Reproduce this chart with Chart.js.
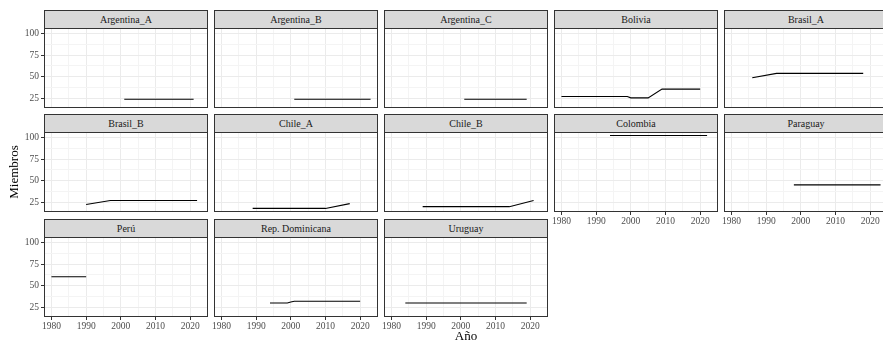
<!DOCTYPE html>
<html><head><meta charset="utf-8">
<script src="https://cdn.jsdelivr.net/npm/chart.js@4"></script>
<style>
body{margin:0;background:#fff;}
#wrap{position:relative;width:883px;height:342px;overflow:hidden;background:#fff;font-family:"Liberation Serif","DejaVu Serif",serif;}
.strip{position:absolute;box-sizing:border-box;border:1px solid #333;background:#d9d9d9;color:#1a1a1a;font-family:"Liberation Serif","DejaVu Serif",serif;font-size:10px;text-align:center;line-height:17px;height:19px;width:164px;white-space:nowrap;}
canvas{position:absolute;}
.ttl{position:absolute;font-family:"Liberation Serif","DejaVu Serif",serif;font-size:13px;color:#000;text-align:center;width:100px;line-height:14px;}
</style></head><body><div id="wrap"></div>
<script>
// ---- data ----
const countries = ["Argentina_A","Argentina_B","Argentina_C","Bolivia","Brasil_A","Brasil_B","Chile_A","Chile_B","Colombia","Paraguay","Perú","Rep. Dominicana","Uruguay"];
const argentinaA_years = [2001, 2021];            const argentinaA_values = [24.5, 24.5];
const argentinaB_years = [2001, 2023];            const argentinaB_values = [24.5, 24.5];
const argentinaC_years = [2001, 2019];            const argentinaC_values = [24.5, 24.5];
const bolivia_years = [1980, 1999, 2000, 2005, 2009, 2020]; const bolivia_values = [27.5, 27.5, 26, 26, 36, 36];
const brasilA_years = [1986, 1993, 2018];         const brasilA_values = [49, 54, 54];
const brasilB_years = [1990, 1997, 2022];         const brasilB_values = [23, 27.5, 27.5];
const chileA_years = [1989, 2010, 2017];          const chileA_values = [18.5, 18.5, 24];
const chileB_years = [1989, 2014, 2021];          const chileB_values = [20.5, 20.5, 27.5];
const colombia_years = [1994, 2022];              const colombia_values = [102, 102];
const paraguay_years = [1998, 2023];              const paraguay_values = [45.5, 45.5];
const peru_years = [1980, 1990];                  const peru_values = [60.5, 60.5];
const repDom_years = [1994, 1999, 2000, 2001, 2020]; const repDom_values = [30.5, 30.5, 31.5, 32.5, 32.5];
const uruguay_years = [1984, 2019];               const uruguay_values = [30.5, 30.5];

const xTickLabels = [1980, 1990, 2000, 2010, 2020];
const xMinorBreaks = [1985, 1995, 2005, 2015, 2025];
const yTickLabels = [25, 50, 75, 100];
const yMinorBreaks = [37.5, 62.5, 87.5];

const seriesYears = [argentinaA_years, argentinaB_years, argentinaC_years, bolivia_years, brasilA_years, brasilB_years, chileA_years, chileB_years, colombia_years, paraguay_years, peru_years, repDom_years, uruguay_years];
const seriesValues = [argentinaA_values, argentinaB_values, argentinaC_values, bolivia_values, brasilA_values, brasilB_values, chileA_values, chileB_values, colombia_values, paraguay_values, peru_values, repDom_values, uruguay_values];

// ---- layout ----
const X_MIN = 1977.85, X_MAX = 2025.15, Y_MIN = 14.4, Y_MAX = 106;
const colLefts = [44, 214, 384, 554, 724];
const plotTops = [28, 132, 237];
const PW = 164, PH = 80, LM = 40, TM = 10, RM = 10, BM = 26;
const FAM = '"Liberation Serif", "DejaVu Serif", serif';
const wrap = document.getElementById('wrap');

const xAll = [...xTickLabels, ...xMinorBreaks].sort((a,b)=>a-b);
const yAll = [...yTickLabels, ...yMinorBreaks].sort((a,b)=>a-b);

const borderPlugin = {
  id: 'panelBorder',
  afterDraw(chart) {
    const {ctx, chartArea: a} = chart;
    ctx.save();
    ctx.strokeStyle = '#333333';
    ctx.lineWidth = 1;
    ctx.strokeRect(Math.round(a.left) + 0.5, Math.round(a.top) + 0.5, Math.round(a.right - a.left) - 1, Math.round(a.bottom - a.top) - 1);
    ctx.restore();
  }
};

const N = countries.length;
for (let i = 0; i < N; i++) {
  const r = Math.floor(i / 5), c = i % 5;
  const left = colLefts[c], top = plotTops[r];
  const showY = c === 0;
  const showX = (i + 5) >= N;

  const strip = document.createElement('div');
  strip.className = 'strip';
  strip.style.left = left + 'px';
  strip.style.top = (top - 18) + 'px';
  strip.textContent = countries[i];
  wrap.appendChild(strip);

  const W = LM + PW + RM, H = TM + PH + BM;
  const cv = document.createElement('canvas');
  cv.width = W; cv.height = H;
  cv.style.width = W + 'px'; cv.style.height = H + 'px';
  cv.style.left = (left - LM) + 'px';
  cv.style.top = (top - TM) + 'px';
  wrap.appendChild(cv);

  const pts = seriesYears[i].map((yr, k) => ({x: yr, y: seriesValues[i][k]}));

  new Chart(cv, {
    type: 'line',
    data: {datasets: [{data: pts, borderColor: '#000', borderWidth: 1.1, pointRadius: 0, tension: 0, fill: false}]},
    options: {
      responsive: false, animation: false, events: [],
      layout: {padding: {top: TM, right: RM, left: 0, bottom: 0}},
      plugins: {legend: {display: false}, tooltip: {enabled: false}, title: {display: false}},
      scales: {
        x: {
          type: 'linear', min: X_MIN, max: X_MAX,
          afterBuildTicks: ax => { ax.ticks = xAll.filter(v => v >= X_MIN && v <= X_MAX).map(v => ({value: v})); },
          afterFit: ax => { ax.height = BM; },
          ticks: {display: showX, autoSkip: false, maxRotation: 0, padding: 1,
            callback: v => xTickLabels.includes(v) ? String(v) : '',
            font: {family: FAM, size: 9.5}, color: '#4d4d4d'},
          grid: {
            color: ctx => xTickLabels.includes(ctx.tick && ctx.tick.value) ? '#ebebeb' : '#f4f4f4',
            lineWidth: 1, drawTicks: showX, tickLength: 3,
            tickColor: ctx => xTickLabels.includes(ctx.tick && ctx.tick.value) ? '#333333' : 'rgba(0,0,0,0)'
          },
          border: {display: false}
        },
        y: {
          type: 'linear', min: Y_MIN, max: Y_MAX,
          afterBuildTicks: ax => { ax.ticks = yAll.filter(v => v >= Y_MIN && v <= Y_MAX).map(v => ({value: v})); },
          afterFit: ax => { ax.width = LM; },
          ticks: {display: showY, autoSkip: false, padding: 2,
            callback: v => yTickLabels.includes(v) ? String(v) : '',
            font: {family: FAM, size: 9.5}, color: '#4d4d4d'},
          grid: {
            color: ctx => yTickLabels.includes(ctx.tick && ctx.tick.value) ? '#ebebeb' : '#f4f4f4',
            lineWidth: 1, drawTicks: showY, tickLength: 3,
            tickColor: ctx => yTickLabels.includes(ctx.tick && ctx.tick.value) ? '#333333' : 'rgba(0,0,0,0)'
          },
          border: {display: false}
        }
      }
    },
    plugins: [borderPlugin]
  });
}

const yt = document.createElement('div');
yt.className = 'ttl';
yt.textContent = 'Miembros';
yt.style.left = (14 - 50) + 'px';
yt.style.top = (172 - 7) + 'px';
yt.style.transform = 'rotate(-90deg)';
wrap.appendChild(yt);

const xt = document.createElement('div');
xt.className = 'ttl';
xt.textContent = 'Año';
xt.style.left = (466 - 50) + 'px';
xt.style.top = '329px';
wrap.appendChild(xt);
</script>
</body></html>
